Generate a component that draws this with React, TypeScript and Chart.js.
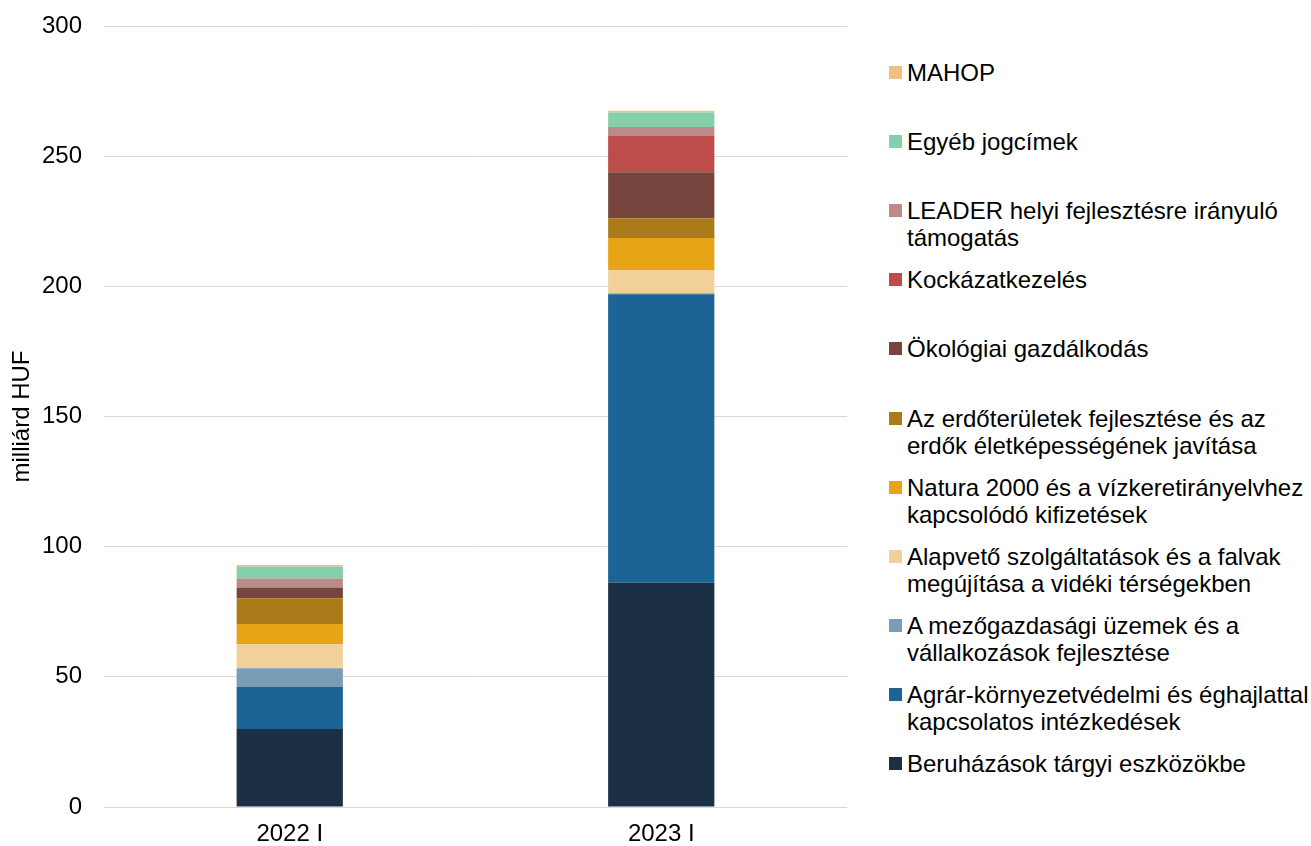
import React, { useEffect, useRef } from "react";
import { Chart, registerables } from "chart.js";

Chart.register(...registerables);

const categories = ["2022 I", "2023 I"];

const seriesNames = [
  "Beruházások tárgyi eszközökbe",
  "Agrár-környezetvédelmi és éghajlattal kapcsolatos intézkedések",
  "A mezőgazdasági üzemek és a vállalkozások fejlesztése",
  "Alapvető szolgáltatások és a falvak megújítása a vidéki térségekben",
  "Natura 2000 és a vízkeretirányelvhez kapcsolódó kifizetések",
  "Az erdőterületek fejlesztése és az erdők életképességének javítása",
  "Ökológiai gazdálkodás",
  "Kockázatkezelés",
  "LEADER helyi fejlesztésre irányuló támogatás",
  "Egyéb jogcímek",
  "MAHOP",
];

const beruhazasok = [30.0, 86.1];
const agrar = [16.1, 110.9];
const mezogazdasagi = [7.2, 0.3];
const alapveto = [9.2, 9.0];
const natura = [7.8, 12.3];
const erdo = [9.9, 7.6];
const okologiai = [4.1, 17.6];
const kockazat = [0, 13.9];
const leader = [3.5, 3.5];
const egyeb = [4.6, 5.6];
const mahop = [0.6, 0.6];

const seriesValues = [
  beruhazasok,
  agrar,
  mezogazdasagi,
  alapveto,
  natura,
  erdo,
  okologiai,
  kockazat,
  leader,
  egyeb,
  mahop,
];

const seriesColors = [
  "#1b3045",
  "#1c6496",
  "#7a9db5",
  "#f2d09a",
  "#e8a417",
  "#ab7b1a",
  "#76463e",
  "#bd4c4b",
  "#bd8a8a",
  "#83d0aa",
  "#efc084",
];

const yTicks = [0, 50, 100, 150, 200, 250, 300];

const FONT = "'Liberation Sans', Arial, sans-serif";

export default function App() {
  const canvasRef = useRef<HTMLCanvasElement | null>(null);

  useEffect(() => {
    if (!canvasRef.current) return;
    const chart = new Chart(canvasRef.current, {
      type: "bar",
      data: {
        labels: categories,
        datasets: seriesNames.map((name, i) => ({
          label: name,
          data: seriesValues[i],
          backgroundColor: seriesColors[i],
          borderWidth: 0,
          barPercentage: 1,
          categoryPercentage: 0.286,
        })),
      },
      options: {
        animation: false,
        responsive: false,
        maintainAspectRatio: false,
        layout: { padding: { top: 26, right: 23, bottom: 0, left: 0 } },
        plugins: {
          legend: { display: false },
          tooltip: { enabled: false },
        },
        scales: {
          x: {
            stacked: true,
            grid: { display: false, drawTicks: false },
            border: { display: false },
            ticks: {
              color: "#000",
              font: { family: FONT, size: 24 },
              padding: 13,
            },
            afterFit: (scale: any) => {
              scale.height = 39;
              scale.paddingLeft = 0;
              scale.paddingRight = 0;
            },
          },
          y: {
            stacked: true,
            min: 0,
            max: 300,
            afterBuildTicks: (scale: any) => {
              scale.ticks = yTicks.map((v) => ({ value: v }));
            },
            grid: { color: "#d9d9d9", lineWidth: 1, drawTicks: false },
            border: { display: false },
            ticks: {
              color: "#000",
              font: { family: FONT, size: 24 },
              padding: 22,
            },
            title: {
              display: true,
              text: "milliárd HUF",
              color: "#000",
              font: { family: FONT, size: 24 },
              padding: { top: 8, bottom: 0 },
            },
            afterFit: (scale: any) => {
              scale.width = 104;
              scale.paddingTop = 0;
              scale.paddingBottom = 0;
            },
          },
        },
      },
    });
    return () => chart.destroy();
  }, []);

  const legendOrder = seriesNames.map((_, i) => i).reverse();

  return (
    <div
      style={{
        position: "absolute",
        left: 0,
        top: 0,
        width: 1311,
        height: 846,
        background: "#fff",
        overflow: "hidden",
        fontFamily: FONT,
      }}
    >
      <canvas
        ref={canvasRef}
        width={870}
        height={846}
        style={{ position: "absolute", left: 0, top: 0, width: 870, height: 846 }}
      />
      {legendOrder.map((idx, k) => (
        <div
          key={idx}
          style={{
            position: "absolute",
            left: 889,
            top: 72.5 + k * 69.1 - 13.5,
            width: 430,
            display: "flex",
            alignItems: "flex-start",
            fontSize: 24,
            lineHeight: "27px",
            color: "#000",
          }}
        >
          <div
            style={{
              width: 13,
              height: 13,
              marginTop: 7,
              marginRight: 5,
              flex: "0 0 13px",
              background: seriesColors[idx],
            }}
          />
          <div style={{ width: 405 }}>{seriesNames[idx]}</div>
        </div>
      ))}
    </div>
  );
}
